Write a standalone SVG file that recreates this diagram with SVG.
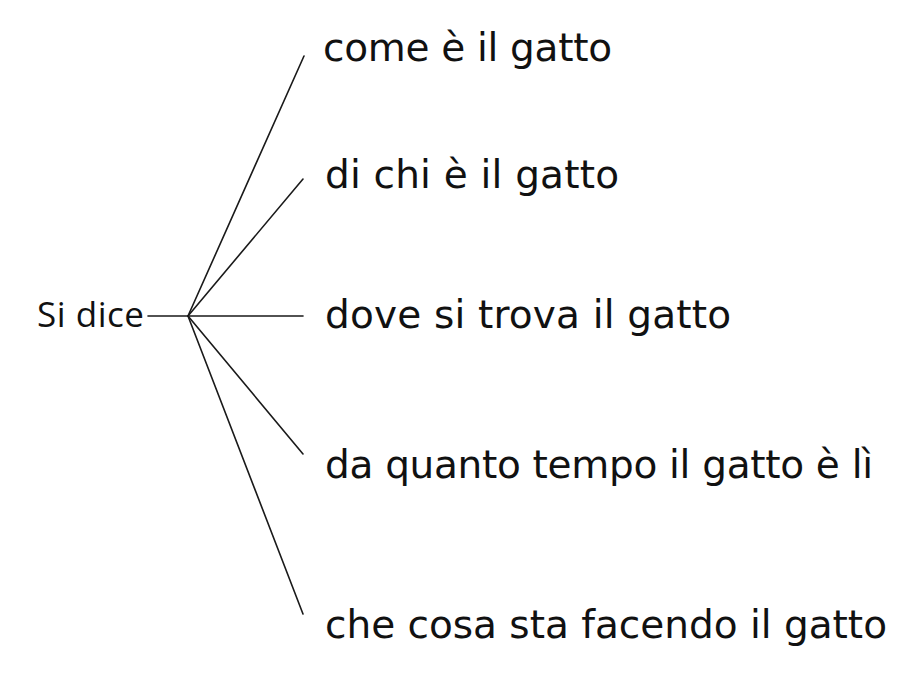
<svg xmlns="http://www.w3.org/2000/svg" width="918" height="674" viewBox="0 0 918 674">
<style>
.conn{stroke:#1a1a1a;stroke-width:1.6;fill:none;stroke-linecap:round}
.leaf{font-family:"DejaVu Sans","Noto Sans",sans-serif;font-size:39px;fill:#111}
.root{font-family:"Open Sans","Noto Sans",sans-serif;font-size:35px;fill:#111}
</style>
<rect width="918" height="674" fill="#ffffff"/>
<g id="connectors">
<line class="conn" x1="148" y1="316" x2="188" y2="316"/>
<line class="conn" x1="188" y1="316" x2="304" y2="56"/>
<line class="conn" x1="188" y1="316" x2="303" y2="179"/>
<line class="conn" x1="188" y1="316" x2="303" y2="316"/>
<line class="conn" x1="188" y1="316" x2="303" y2="454"/>
<line class="conn" x1="188" y1="316" x2="303" y2="614"/>
</g>
<g id="root"><text class="root" x="37" y="327" textLength="107">Si dice</text></g>
<g id="n1"><text class="leaf" x="323" y="61" textLength="289">come è il gatto</text></g>
<g id="n2"><text class="leaf" x="325" y="188" textLength="294">di chi è il gatto</text></g>
<g id="n3"><text class="leaf" x="325" y="328" textLength="406">dove si trova il gatto</text></g>
<g id="n4"><text class="leaf" x="325" y="478" textLength="548">da quanto tempo il gatto è lì</text></g>
<g id="n5"><text class="leaf" x="325" y="638" textLength="562">che cosa sta facendo il gatto</text></g>
</svg>
